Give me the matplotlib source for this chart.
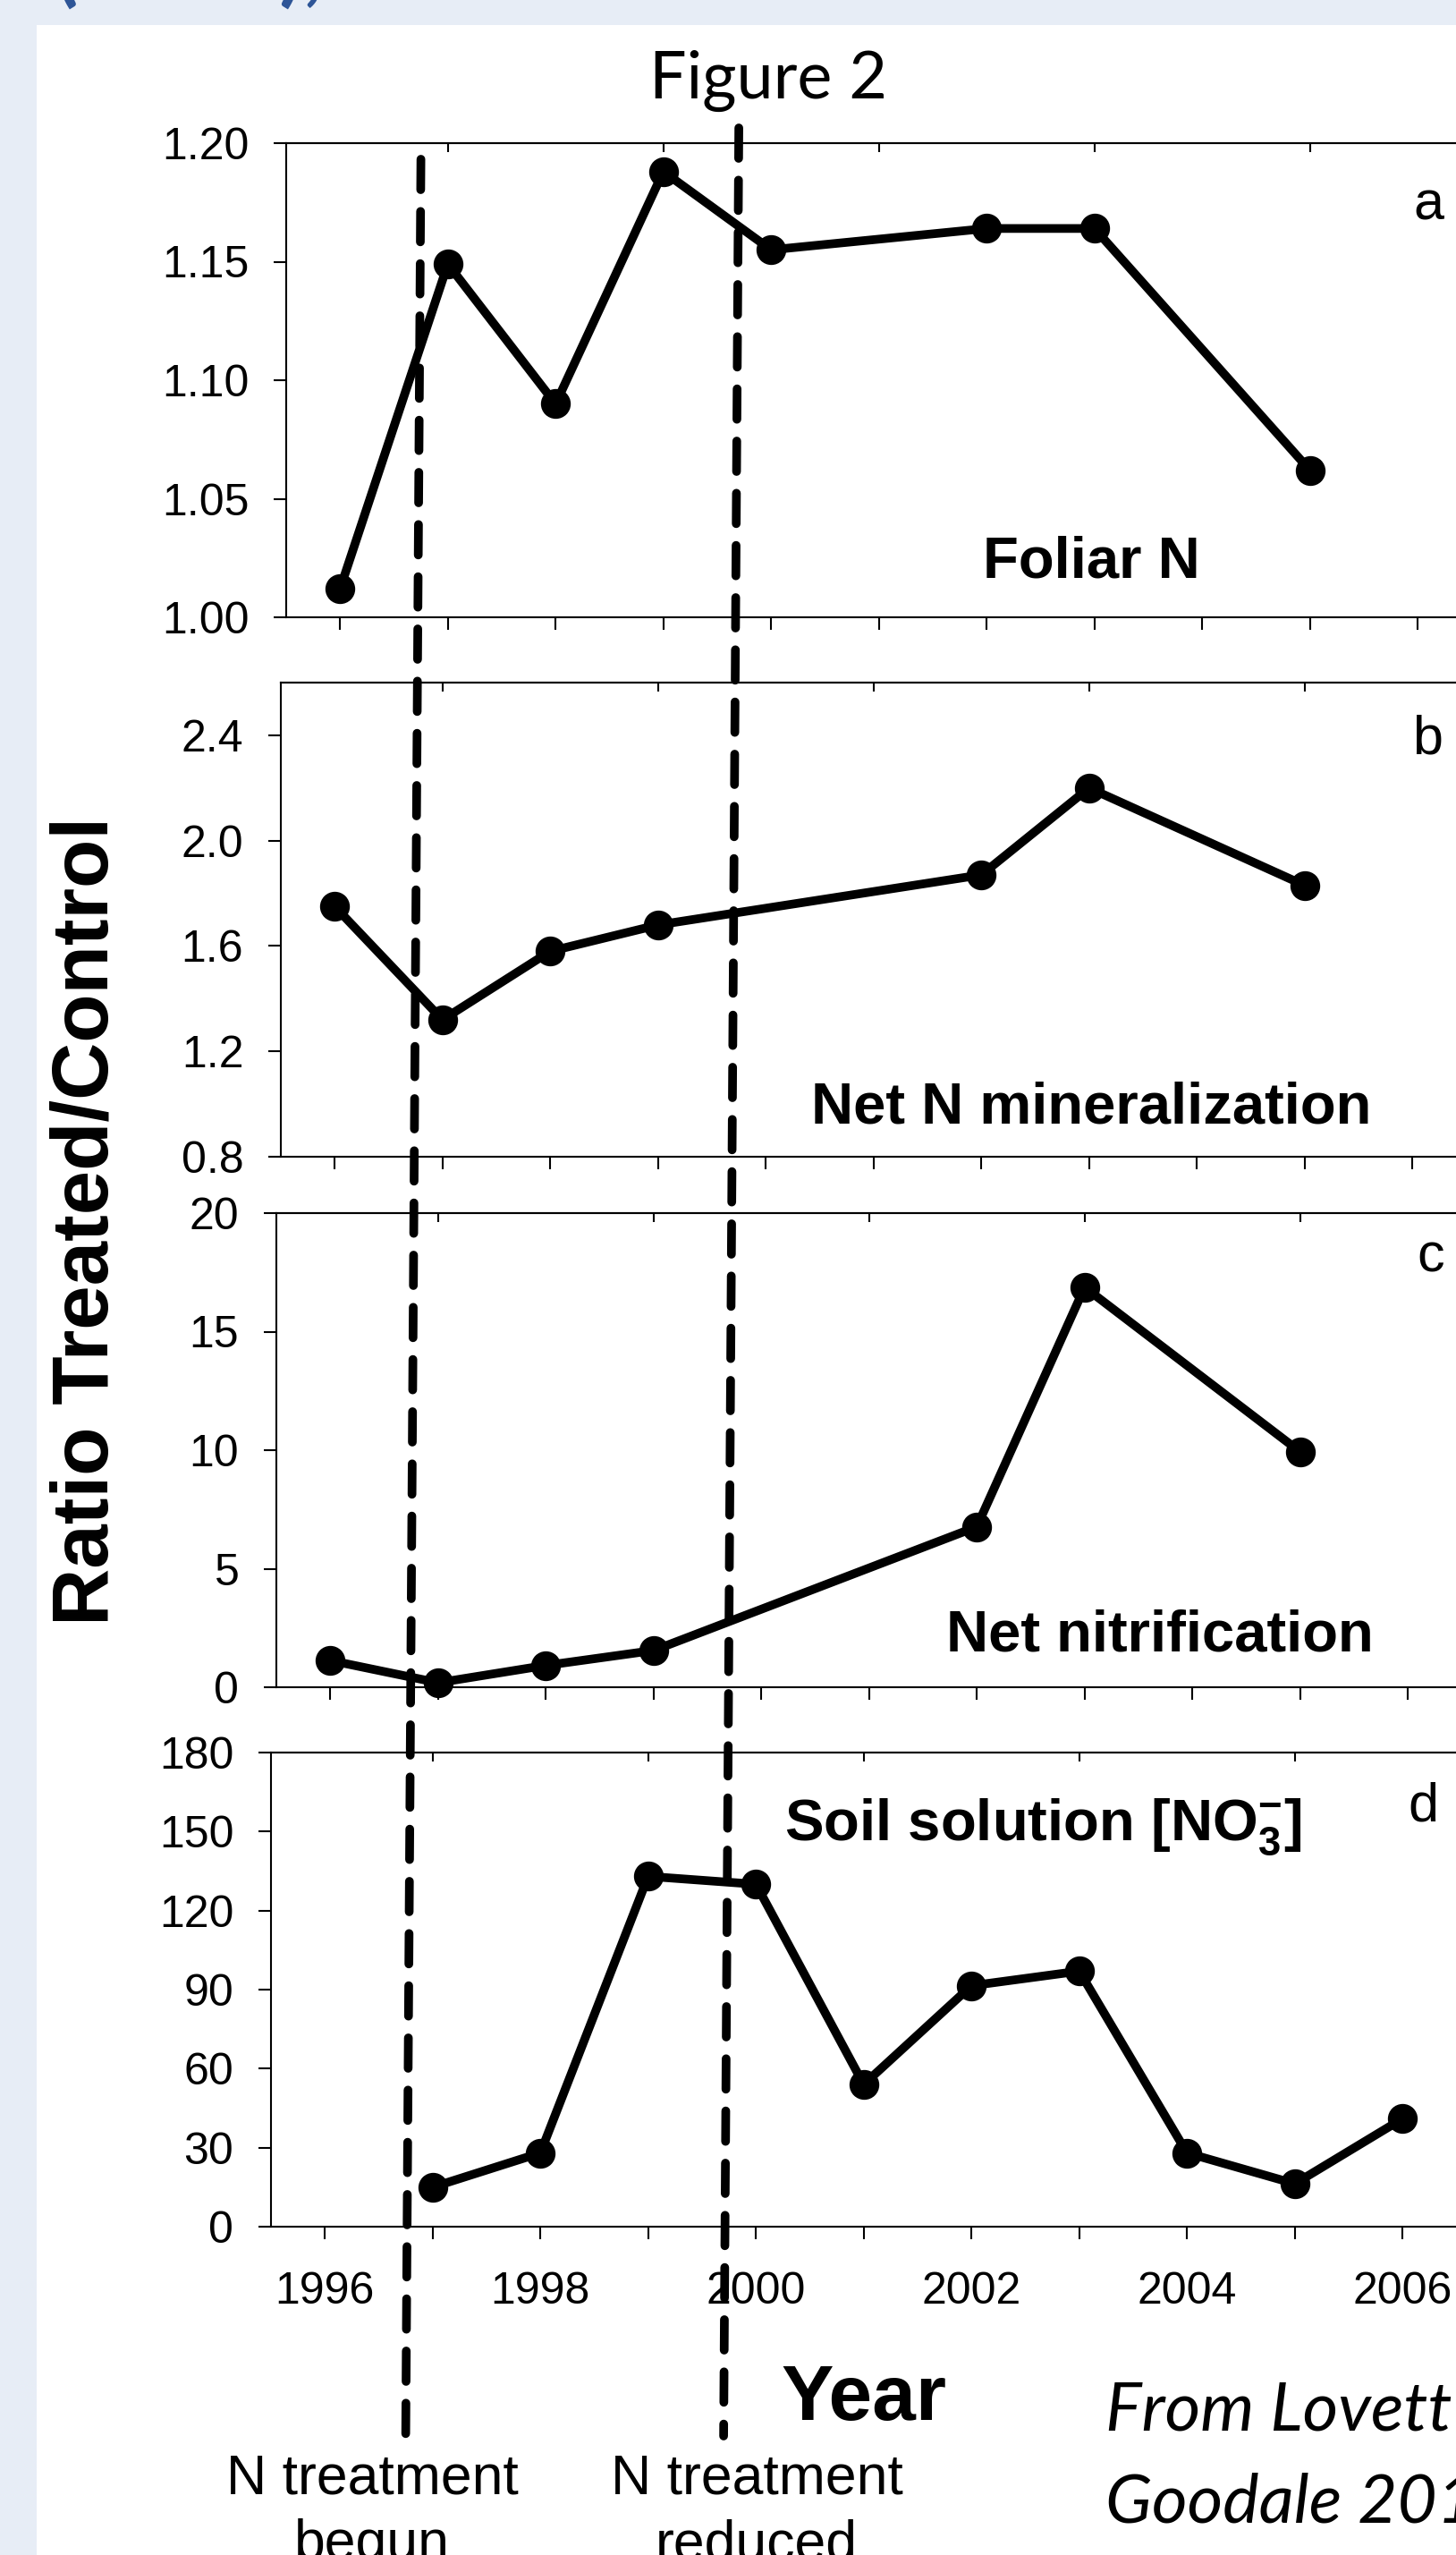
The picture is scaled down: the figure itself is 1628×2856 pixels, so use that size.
import matplotlib
matplotlib.use("Agg")
import matplotlib.pyplot as plt
from matplotlib.patches import Rectangle, ConnectionPatch
from matplotlib.transforms import blended_transform_factory

plt.rcParams['font.family'] = ['Liberation Sans', 'DejaVu Sans']
plt.rcParams['mathtext.fontset'] = 'custom'
plt.rcParams['mathtext.rm'] = 'Liberation Sans:bold'
plt.rcParams['mathtext.bf'] = 'Liberation Sans:bold'
plt.rcParams['mathtext.it'] = 'Liberation Sans:bold'

# ---------------- data ----------------
years_a = [1996, 1997, 1998, 1999, 2000, 2002, 2003, 2005]
foliar_n = [1.012, 1.149, 1.090, 1.188, 1.155, 1.164, 1.164, 1.062]

years_b = [1996, 1997, 1998, 1999, 2002, 2003, 2005]
net_n_min = [1.75, 1.32, 1.58, 1.68, 1.87, 2.20, 1.83]

years_c = [1996, 1997, 1998, 1999, 2002, 2003, 2005]
net_nitrif = [1.13, 0.19, 0.92, 1.55, 6.77, 16.87, 9.93]

years_d = [1997, 1998, 1999, 2000, 2001, 2002, 2003, 2004, 2005, 2006]
soil_no3 = [15, 28, 133, 130, 54, 91.5, 97, 28, 16.3, 41]

yticks_a = [1.00, 1.05, 1.10, 1.15, 1.20]
ylabels_a = ["1.00", "1.05", "1.10", "1.15", "1.20"]
yticks_b = [0.8, 1.2, 1.6, 2.0, 2.4]
ylabels_b = ["0.8", "1.2", "1.6", "2.0", "2.4"]
yticks_c = [0, 5, 10, 15, 20]
ylabels_c = ["0", "5", "10", "15", "20"]
yticks_d = [0, 30, 60, 90, 120, 150, 180]
ylabels_d = ["0", "30", "60", "90", "120", "150", "180"]

xtick_years = list(range(1996, 2008))
xlabel_years = [1996, 1998, 2000, 2002, 2004, 2006]
top_tick_years = [1997, 1999, 2001, 2003, 2005, 2007]

treatment_years = [1996.75, 1999.7]
treatment_labels = [("N treatment", "begun"), ("N treatment", "reduced")]

panel_titles = ["Foliar N", "Net N mineralization", "Net nitrification",
                r"Soil solution [NO$_3^{-}$]"]
panel_letters = ["a", "b", "c", "d"]

# ---------------- layout ----------------
W, H, DPI = 1628, 2856, 100
def fx(px):
    return px / W
def fy(py):
    return 1 - py / H

PX_PER_YEAR = 120.5
XLIM = (1995.5, 2007.0)

fig = plt.figure(figsize=(W / DPI, H / DPI), dpi=DPI)
fig.patch.set_facecolor('#E7EDF6')
fig.add_artist(Rectangle((fx(41), 0), 1 - fx(41), fy(28), transform=fig.transFigure,
                         facecolor='white', edgecolor='none', zorder=-10))

# partial slide title at top (mostly cut off by the crop)
fig.text(fx(60), fy(-4), "(2011),", fontsize=70, color='#2E5597', fontweight='bold',
         family=['Lato', 'DejaVu Sans'], ha='left', va='baseline')

panel_px = [(320, 160, 690), (314, 763, 1293), (309, 1356, 1886), (303, 1959, 2489)]
series = [(years_a, foliar_n), (years_b, net_n_min), (years_c, net_nitrif), (years_d, soil_no3)]
yspecs = [(yticks_a, ylabels_a, (1.0, 1.2)), (yticks_b, ylabels_b, (0.8, 2.6)),
          (yticks_c, ylabels_c, (0, 20)), (yticks_d, ylabels_d, (0, 180))]

# title text positions (px): (x, baseline y, ha)
title_pos = [(1220, 645, 'center'), (1220, 1255, 'center'), (1297, 1845, 'center'),
             (877, 2057, 'left')]
letter_pos = [(1597, 245), (1596, 842), (1600, 1421), (1591, 2036)]

axes = []
for i, (left, top, bottom) in enumerate(panel_px):
    width_px = (XLIM[1] - XLIM[0]) * PX_PER_YEAR
    ax = fig.add_axes([fx(left), fy(bottom), width_px / W, (bottom - top) / H])
    axes.append(ax)
    ax.set_facecolor('white')
    for s in ax.spines.values():
        s.set_linewidth(1.5)
    xs, ys = series[i]
    ax.plot(xs, ys, color='black', lw=7, marker='o', ms=23, clip_on=False, zorder=3,
            solid_joinstyle='round', solid_capstyle='round')
    ax.set_xlim(*XLIM)
    yt, yl, ylim = yspecs[i]
    ax.set_ylim(*ylim)
    ax.set_yticks(yt)
    ax.set_yticklabels(yl)
    ax.set_xticks(xtick_years)
    if i == 3:
        ax.set_xticklabels([str(y) if y in xlabel_years else "" for y in xtick_years])
    else:
        ax.set_xticklabels([""] * len(xtick_years))
    ax.tick_params(axis='both', direction='out', length=10, width=1.5, labelsize=36,
                   pad=20, top=False, right=False)
    ax.tick_params(axis='x', pad=26)
    sec = ax.secondary_xaxis('top')
    sec.set_xticks(top_tick_years)
    sec.tick_params(direction='in', length=7, width=1.5, labeltop=False)
    sec.spines['top'].set_linewidth(1.5)

    tx, tyy, ha = title_pos[i]
    ax.text(fx(tx), fy(tyy), panel_titles[i], transform=fig.transFigure, fontsize=47,
            fontweight='bold', ha=ha, va='baseline', zorder=4)
    lx, lyy = letter_pos[i]
    fig.text(fx(lx), fy(lyy), panel_letters[i], fontsize=44, ha='center', va='baseline')

ax_a, ax_d = axes[0], axes[3]

# dashed treatment lines spanning all panels
dash_top_px = [178, 143]
dash_bottom_px = 2723
tA = blended_transform_factory(ax_a.transData, fig.transFigure)
tB = blended_transform_factory(ax_d.transData, fig.transFigure)
for yr, tp in zip(treatment_years, dash_top_px):
    con = ConnectionPatch(xyA=(yr, fy(tp)), coordsA=tA,
                          xyB=(yr, fy(dash_bottom_px)), coordsB=tB,
                          color='black', lw=7, linestyle=(0, (3.5, 2.5)),
                          capstyle='round', shrinkA=0, shrinkB=0, zorder=6)
    fig.add_artist(con)

# figure texts
fig.text(fx(859), fy(110), "Figure 2", fontsize=53, family=['Lato', 'DejaVu Sans'],
         ha='center', va='baseline')
fig.text(fx(98), fy(1365), "Ratio Treated/Control", fontsize=64, fontweight='bold',
         rotation=90, ha='center', va='center')
fig.text(fx(966), fy(2705), "Year", fontsize=63, fontweight='bold', ha='center', va='baseline')

label_cx = [416, 846]
for (l1, l2), cx in zip(treatment_labels, label_cx):
    fig.text(fx(cx), fy(2787), l1, fontsize=45, ha='center', va='baseline')
    fig.text(fx(cx), fy(2861), l2, fontsize=45, ha='center', va='baseline')

fig.text(fx(1236), fy(2717), "From Lovett &", fontsize=55, style='italic',
         family=['Lato', 'DejaVu Sans'], ha='left', va='baseline')
fig.text(fx(1236), fy(2819), "Goodale 2011", fontsize=55, style='italic',
         family=['Lato', 'DejaVu Sans'], ha='left', va='baseline')

fig.savefig("out.png", dpi=DPI, facecolor=fig.get_facecolor())
